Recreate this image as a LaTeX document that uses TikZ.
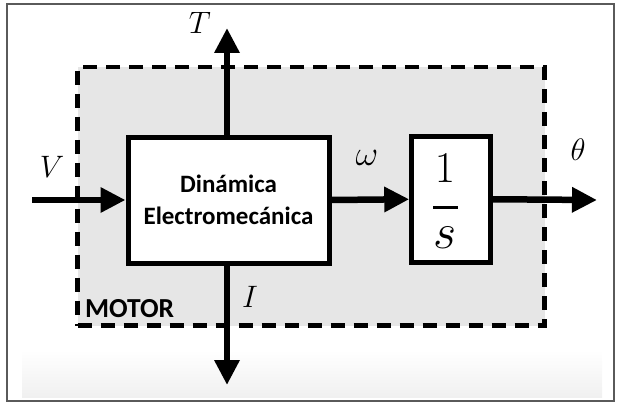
\RequirePackage{fix-cm}
\documentclass[tikz,border=0pt]{standalone}
\usepackage{fontspec}
\setsansfont{Carlito}
\usetikzlibrary{arrows.meta}
\definecolor{motorfill}{RGB}{230,230,230}
\definecolor{framegray}{RGB}{90,90,90}
\definecolor{bandgray}{RGB}{240,240,240}
\begin{document}
\begin{tikzpicture}[x=1pt,y=-1pt,
  motorbox/.style={draw=black,fill=motorfill,line width=4.5pt,dash pattern=on 14pt off 9pt,inner sep=0pt,minimum width=467pt,minimum height=258.5pt},
  blockbox/.style={draw=black,line width=5pt,fill=white,inner sep=0pt,align=center},
  sig/.style={line width=6.5pt,-{Triangle[length=25pt,width=24pt]}},
  lbl/.style={font=\fontsize{31}{31}\selectfont,inner sep=0pt},
  big/.style={font=\fontsize{44}{44}\selectfont,inner sep=0pt}
]
\useasboundingbox (0,0) rectangle (618,404);
% bottom faint band
\shade[top color=white,bottom color=bandgray] (22,350) rectangle (602,397);
% outer frame
\draw[framegray,line width=2pt] (7,4) rectangle (614,401);
% motor region
\node[motorbox] (motor) at (311,196.25) {};
% blocks
\node[blockbox,minimum width=201pt,minimum height=126pt,
      font=\fontsize{25}{32}\selectfont\sffamily\bfseries] (dyn) at (228.5,200) {Din\'amica\\Electromec\'anica};
\node[blockbox,minimum width=78.5pt,minimum height=125.5pt] (integ) at (451,199.25) {};
% 1/s contents
\node[big] (one) at (445,168) {$1$};
\node[big,font=\fontsize{50}{50}\selectfont] (svar) at (445,238) {$s$};
\coordinate (barl) at (433,207);
\coordinate (barr) at (458,207);
\draw[line width=3pt] (barl) -- (barr);
% signal ends
\coordinate (vin) at (32,200);
\coordinate (thout) at (597,200);
\coordinate (tout) at (227,28);
\coordinate (iout) at (227,385);
% arrows
\draw[sig] (vin) -- (dyn.west);
\draw[sig] (dyn.east) -- (integ.west);
\draw[sig] (integ.east) -- (thout);
\draw[sig] (tout |- dyn.north) -- (tout);
\draw[sig] (iout |- dyn.south) -- (iout);
% labels
\node[lbl] (lT) at (200,22.5) {$T$};
\node[lbl] (lV) at (52,167) {$V$};
\node[lbl,font=\fontsize{35}{35}\selectfont] (lw) at (367,158) {$\omega$};
\node[lbl] (lth) at (578,150) {$\theta$};
\node[lbl] (lI) at (250,297) {$I$};
\node[anchor=base west,inner sep=0pt,font=\fontsize{27.5}{27.5}\selectfont\sffamily\bfseries] (lmotor) at (85,317) {MOTOR};
\end{tikzpicture}
\end{document}
